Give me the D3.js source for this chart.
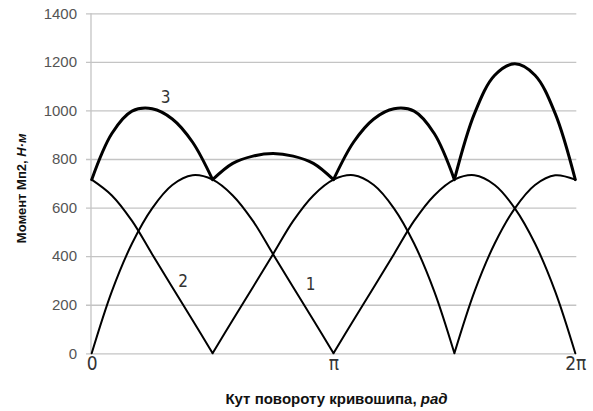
<!DOCTYPE html>
<html>
<head>
<meta charset="utf-8">
<script src="https://cdn.jsdelivr.net/npm/d3@7"></script>
<style>
  body { margin: 0; background: #fff; }
  svg { display: block; }
  .grid line { stroke: #c4c4c4; stroke-width: 1.3; }
  .grid text { fill: #555; font: 15px 'Liberation Sans', Arial, sans-serif; }
  .x-axis text { fill: #333; font: 19px 'Liberation Sans Narrow', 'DejaVu Sans Condensed', sans-serif; }
  .axis-title { fill: #111; font-family: 'Liberation Sans', Arial, sans-serif; }
  .curve { fill: none; stroke: #000; stroke-linejoin: round; stroke-linecap: round; }
  .curve-label { fill: #333; font: 17px 'Liberation Sans Narrow', 'DejaVu Sans Condensed', sans-serif; text-anchor: middle; }
</style>
</head>
<body>
<svg id="chart"></svg>
<script>
// crank angle, degrees (step pi/12)
const crankAngle = [0, 15, 30, 45, 60, 75, 90, 105, 120, 135, 150, 165, 180,
                    195, 210, 225, 240, 255, 270, 285, 300, 315, 330, 345, 360];

// moment Mп2, N·m
const moment1 = [0, 255, 452, 597, 693, 733, 715, 650, 545, 408, 272, 137, 0,
                 137, 272, 408, 545, 650, 715, 733, 693, 597, 452, 255, 0];
const moment2 = [715, 650, 545, 408, 272, 137, 0, 137, 272, 408, 545, 650, 715,
                 733, 693, 597, 452, 255, 0, 255, 452, 597, 693, 733, 715];
const moment3 = [715, 905, 997, 1007, 965, 870, 715, 782, 812, 823, 812, 782, 715,
                 870, 965, 1007, 997, 905, 715, 988, 1145, 1192, 1145, 988, 715];

// indexes where a curve has a cusp
const breaks1 = [0, 12, 24];
const breaks2 = [0, 6, 18, 24];
const breaks3 = [0, 6, 12, 18, 24];

const yTicks = [0, 200, 400, 600, 800, 1000, 1200, 1400];
const xTicks = [0, 180, 360];
const xTickLabels = ['0', 'π', '2π'];

const curveNames = ['1', '2', '3'];
const labelAngle = [163, 68, 55];
const labelMoment = [261, 273, 1031];

class MomentChart {

    constructor(_config) {
        this.config = {
            parentElement: _config.parentElement,
            containerWidth: 593,
            containerHeight: 411,
            left: 91.7,
            right: 575.3,
            top: 13.3,
            bottom: 353.3,
            gridStart: 86
        };
        this.initVis();
    }

    initVis() {
        let vis = this;
        const c = vis.config;

        vis.svg = d3.select(c.parentElement)
            .attr('width', c.containerWidth)
            .attr('height', c.containerHeight);

        vis.xScale = d3.scaleLinear()
            .domain([0, 360])
            .range([c.left, c.right]);
        vis.yScale = d3.scaleLinear()
            .domain([0, 1400])
            .range([c.bottom, c.top]);

        // horizontal grid + y labels
        vis.yAxis = d3.axisLeft(vis.yScale)
            .tickValues(yTicks)
            .tickFormat(d3.format('d'))
            .tickSize(-(c.right + 1 - c.gridStart))
            .tickPadding(9);

        vis.svg.append('g')
            .attr('class', 'grid')
            .attr('transform', `translate(${c.gridStart},0)`)
            .call(vis.yAxis)
            .call(g => g.select('.domain').remove());

        // vertical axis line
        vis.svg.append('line')
            .attr('x1', c.left - 0.7).attr('x2', c.left - 0.7)
            .attr('y1', c.top).attr('y2', c.bottom)
            .attr('stroke', '#c4c4c4')
            .attr('stroke-width', 1.3);

        vis.xAxis = d3.axisBottom(vis.xScale)
            .tickValues(xTicks)
            .tickFormat((d, i) => xTickLabels[i])
            .tickSize(0)
            .tickPadding(3);

        vis.svg.append('g')
            .attr('class', 'x-axis')
            .attr('transform', `translate(0,${c.bottom})`)
            .call(vis.xAxis)
            .call(g => g.select('.domain').remove());

        // axis titles
        const yTitle = vis.svg.append('text')
            .attr('class', 'axis-title')
            .attr('transform', `translate(26,${(c.top + c.bottom) / 2 + 5}) rotate(-90)`)
            .attr('text-anchor', 'middle')
            .style('font-size', '13px')
            .style('font-weight', 'bold');
        yTitle.append('tspan').text('Момент Мп2, ');
        yTitle.append('tspan').style('font-style', 'italic').text('Н·м');

        const xTitle = vis.svg.append('text')
            .attr('class', 'axis-title')
            .attr('x', (c.left + c.right) / 2 + 3)
            .attr('y', 404)
            .attr('text-anchor', 'middle')
            .style('font-size', '15px')
            .style('font-weight', 'bold');
        xTitle.append('tspan').text('Кут повороту кривошипа, ');
        xTitle.append('tspan').style('font-style', 'italic').text('рад');

        vis.line = d3.line()
            .x(d => vis.xScale(d.angle))
            .y(d => vis.yScale(d.value))
            .curve(d3.curveCatmullRom.alpha(0.5));

        vis.chart = vis.svg.append('g');
    }

    updateVis() {
        let vis = this;
        vis.series = [
            {name: '1', values: moment1, breaks: breaks1, width: 2},
            {name: '2', values: moment2, breaks: breaks2, width: 2},
            {name: '3', values: moment3, breaks: breaks3, width: 3}
        ];
        vis.renderVis();
    }

    // one path per series, split at the cusps so the corners stay sharp
    pathFor(s) {
        let vis = this;
        const pts = crankAngle.map((a, i) => ({angle: a, value: s.values[i]}));
        let d = '';
        for (let i = 0; i < s.breaks.length - 1; i++) {
            d += vis.line(pts.slice(s.breaks[i], s.breaks[i + 1] + 1));
        }
        return d;
    }

    renderVis() {
        let vis = this;

        vis.chart.selectAll('.curve')
            .data(vis.series, d => d.name)
            .join('path')
            .attr('class', 'curve')
            .attr('stroke-width', d => d.width)
            .attr('d', d => vis.pathFor(d));

        vis.chart.selectAll('.curve-label')
            .data(curveNames)
            .join('text')
            .attr('class', 'curve-label')
            .attr('x', (d, i) => vis.xScale(labelAngle[i]))
            .attr('y', (d, i) => vis.yScale(labelMoment[i]))
            .text(d => d);
    }
}

const chart = new MomentChart({parentElement: '#chart'});
chart.updateVis();
</script>
</body>
</html>
